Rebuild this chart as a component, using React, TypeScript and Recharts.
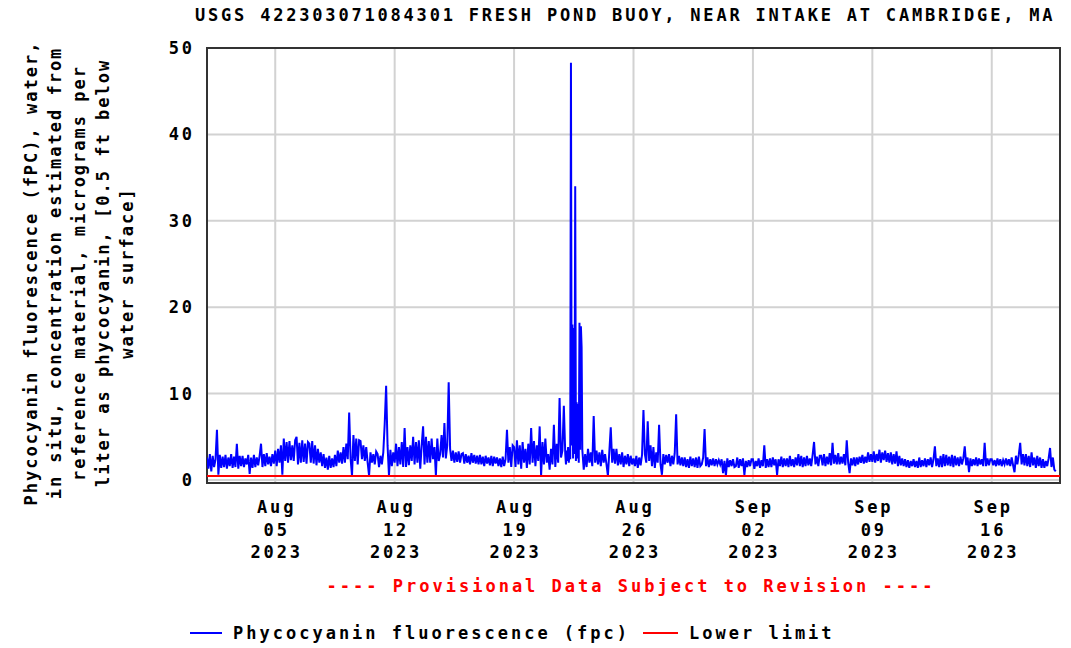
import React from "react";
import {
  LineChart,
  Line,
  XAxis,
  YAxis,
  CartesianGrid,
  ReferenceLine,
  ReferenceArea,
} from "recharts";

// ---- data (phycocyanin, fpc) ----
// 2-hour samples, 12 per day, day 0 = 2023-08-01 00:00
const aug01to07 = [
  2.6, 1.3, 3.0, 1.0, 2.8, 1.5, 2.4, 5.8, 0.6, 2.9, 1.4, 2.7,
  1.5, 2.9, 1.3, 2.6, 1.6, 3.0, 1.4, 2.7, 1.5, 4.2, 1.3, 2.8,
  1.6, 2.8, 1.5, 2.5, 1.8, 2.9, 0.7, 2.6, 1.4, 2.9, 1.5, 2.6,
  1.7, 2.8, 4.2, 1.5, 3.0, 1.6, 3.1, 1.8, 2.7, 1.6, 3.0, 1.9,
  3.4, 1.6, 3.6, 2.0, 4.0, 0.6, 4.8, 2.2, 4.4, 2.0, 4.5, 2.3,
  4.0, 2.2, 4.6, 5.0, 1.8, 4.3, 2.0, 4.6, 2.1, 4.2, 1.9, 4.4,
  4.2, 2.0, 4.5, 1.9, 4.0, 1.7, 3.6, 2.0, 3.2, 1.6, 3.0, 1.4,
];
const aug08to14 = [
  2.6, 1.2, 2.8, 1.4, 2.5, 1.5, 2.9, 1.6, 3.4, 2.0, 3.2, 1.9,
  3.8, 2.0, 4.2, 2.4, 7.8, 2.5, 0.5, 5.2, 2.2, 4.8, 1.8, 4.6,
  4.5, 2.4, 4.0, 2.2, 3.8, 2.0, 0.5, 3.2, 2.0, 3.0, 1.8, 3.3,
  3.0, 1.5, 2.8, 1.8, 3.2, 6.5, 10.9, 4.0, 0.5, 3.5, 1.6, 3.2,
  2.0, 4.2, 1.6, 3.8, 1.8, 4.4, 1.5, 6.0, 1.5, 3.8, 1.7, 4.0,
  2.2, 5.0, 1.8, 4.4, 2.0, 4.6, 1.3, 4.0, 6.2, 1.8, 5.0, 2.0,
  4.5, 2.0, 4.8, 2.4, 3.8, 0.5, 4.8, 2.2, 3.0, 5.2, 2.6, 6.6,
];
const aug15to21 = [
  2.5, 4.0, 11.3, 3.6, 2.2, 3.4, 2.0, 3.2, 2.1, 3.3, 2.0, 3.0,
  3.1, 1.9, 3.0, 2.0, 2.8, 1.8, 3.1, 2.0, 2.9, 1.9, 2.8, 1.8,
  2.9, 1.8, 2.7, 1.6, 2.8, 1.9, 2.6, 1.7, 2.8, 1.6, 2.7, 1.9,
  2.6, 1.6, 2.5, 1.5, 2.7, 1.6, 2.4, 5.8, 2.0, 3.8, 1.5, 4.0,
  3.8, 1.5, 4.6, 1.8, 4.0, 1.3, 4.4, 2.0, 3.6, 1.4, 4.2, 1.8,
  6.0, 2.0, 4.5, 1.6, 4.0, 2.2, 6.2, 0.5, 4.4, 1.8, 4.8, 2.0,
  3.0, 1.2, 3.6, 1.8, 6.4, 1.5, 4.2, 2.0, 9.5, 2.6, 3.4, 8.6,
];
// hourly samples on 2023-08-22 (bloom)
const aug22Hourly = [
  3.0, 1.8, 3.4, 2.2, 3.8, 2.0, 3.5, 2.4, 48.3, 4.0, 18.0, 2.5,
  17.6, 3.0, 34.0, 2.2, 9.0, 2.5, 8.8, 2.0, 18.2, 3.5, 17.8, 15.4,
];
const aug23to29 = [
  3.5, 1.2, 3.0, 1.5, 3.6, 2.0, 3.2, 1.6, 7.4, 2.0, 3.4, 1.8,
  3.2, 1.6, 3.5, 2.0, 3.0, 1.8, 0.5, 3.3, 6.1, 2.0, 3.6, 1.9,
  3.6, 1.7, 3.0, 1.8, 3.2, 1.5, 2.8, 1.8, 3.0, 1.6, 2.8, 1.8,
  2.5, 1.6, 2.8, 1.4, 2.6, 1.7, 2.9, 8.1, 3.0, 2.0, 6.8, 2.2,
  4.0, 1.6, 3.8, 1.4, 3.2, 2.0, 6.4, 1.8, 0.6, 3.0, 1.8, 2.9,
  2.0, 3.0, 1.6, 2.8, 1.8, 3.1, 7.6, 1.8, 2.8, 1.7, 2.6, 1.6,
  2.6, 1.5, 2.4, 1.4, 2.7, 1.6, 2.5, 1.5, 2.6, 1.4, 2.7, 1.6,
];
const aug30toSep05 = [
  1.8, 2.6, 5.9, 1.6, 2.6, 1.5, 2.4, 1.7, 2.5, 1.6, 2.4, 1.8,
  2.3, 1.8, 2.4, 0.8, 2.2, 0.5, 2.5, 1.5, 2.3, 1.6, 2.4, 1.5,
  1.6, 2.6, 1.4, 2.4, 1.6, 2.5, 0.6, 2.2, 1.5, 2.3, 1.6, 2.4,
  2.4, 1.3, 2.2, 1.6, 2.5, 1.4, 2.3, 1.6, 4.0, 1.4, 2.4, 1.5,
  2.5, 1.5, 2.6, 1.7, 2.4, 0.6, 2.4, 1.6, 2.7, 1.5, 2.5, 1.6,
  2.5, 1.5, 2.8, 1.6, 2.4, 1.5, 2.6, 1.7, 3.0, 1.6, 2.8, 1.5,
  2.6, 1.6, 2.8, 1.7, 2.5, 1.6, 2.9, 4.4, 1.8, 2.7, 1.6, 2.8,
];
const sep06to12 = [
  2.8, 1.7, 3.0, 1.6, 2.7, 1.8, 3.1, 1.7, 4.3, 1.9, 2.9, 1.8,
  3.1, 1.8, 2.7, 1.9, 3.0, 1.7, 4.6, 2.0, 0.8, 2.5, 1.7, 2.6,
  1.6, 2.6, 1.8, 2.7, 2.0, 2.9, 1.9, 2.7, 2.0, 3.2, 2.1, 3.0,
  2.1, 3.3, 2.0, 3.0, 2.2, 3.5, 2.0, 3.2, 2.3, 3.4, 2.1, 3.1,
  2.0, 3.2, 1.8, 3.0, 1.9, 3.3, 1.6, 2.8, 1.7, 2.5, 1.6, 2.4,
  1.5, 2.3, 1.4, 2.2, 1.6, 2.4, 1.5, 2.2, 1.4, 2.6, 1.5, 2.3,
  1.6, 2.5, 1.5, 2.4, 1.7, 2.6, 1.5, 2.4, 3.9, 1.6, 2.5, 1.5,
];
const sep13to19 = [
  2.8, 1.5, 3.0, 1.6, 2.9, 1.7, 2.7, 1.6, 2.9, 1.5, 2.8, 1.7,
  2.6, 1.6, 2.7, 1.8, 2.5, 3.9, 1.7, 2.6, 0.9, 2.5, 1.6, 2.4,
  1.7, 2.6, 1.6, 2.5, 1.8, 2.4, 1.6, 4.3, 1.6, 2.5, 1.7, 2.4,
  2.4, 1.7, 2.3, 1.6, 2.5, 1.7, 2.4, 1.6, 2.3, 1.8, 2.5, 1.7,
  2.4, 1.6, 2.6, 1.7, 0.9, 2.8, 1.8, 2.9, 4.3, 1.8, 3.0, 1.7,
  3.0, 1.6, 2.8, 1.5, 3.2, 1.7, 2.6, 1.4, 2.8, 1.6, 2.6, 1.4,
  2.4, 1.4, 2.2, 1.6, 2.5, 3.7, 1.5, 2.6, 1.2, 1.0,
];

const LOWER_LIMIT = 0.45;

// x ticks (days since Aug 01) and their labels
const tickDayValues = [4, 11, 18, 25, 32, 39, 46];
const tickMonths = ["Aug", "Aug", "Aug", "Aug", "Sep", "Sep", "Sep"];
const tickDays = ["05", "12", "19", "26", "02", "09", "16"];
const tickYear = "2023";
const yTicks = [0, 10, 20, 30, 40, 50];

const titleText =
  "USGS 422303071084301 FRESH POND BUOY, NEAR INTAKE AT CAMBRIDGE, MA";
const yLabelLines = [
  "Phycocyanin fluorescence (fPC), water,",
  "in situ, concentration estimated from",
  "reference material, micrograms per",
  "liter as phycocyanin, [0.5 ft below",
  "water surface]",
];
const provisionalText = "---- Provisional Data Subject to Revision ----";
const seriesName = "Phycocyanin fluorescence (fpc)";
const lowerName = "Lower limit";

const segments = [
  { startDay: 0, perDay: 12, values: aug01to07 },
  { startDay: 7, perDay: 12, values: aug08to14 },
  { startDay: 14, perDay: 12, values: aug15to21 },
  { startDay: 21, perDay: 24, values: aug22Hourly },
  { startDay: 22, perDay: 12, values: aug23to29 },
  { startDay: 29, perDay: 12, values: aug30toSep05 },
  { startDay: 36, perDay: 12, values: sep06to12 },
  { startDay: 43, perDay: 12, values: sep13to19 },
];

const data = segments.flatMap((s) =>
  s.values.map((v, i) => ({ t: s.startDay + i / s.perDay, v }))
);

const FONT = '"DejaVu Sans Mono", "Liberation Mono", monospace';
const LS = 2.8;
const textStyle: React.CSSProperties = {
  fontFamily: FONT,
  fontWeight: 700,
  fontSize: 17,
  letterSpacing: LS,
};

const XTick = (props: any) => {
  const { x, y, payload } = props;
  const i = tickDayValues.indexOf(payload.value);
  if (i < 0) return null;
  const cx = x + LS / 2;
  return (
    <text x={cx} y={y} textAnchor="middle" fill="#000" style={textStyle}>
      <tspan x={cx} dy={30}>{tickMonths[i]}</tspan>
      <tspan x={cx} dy={22.5}>{tickDays[i]}</tspan>
      <tspan x={cx} dy={22.5}>{tickYear}</tspan>
    </text>
  );
};

const YTick = (props: any) => {
  const { x, y, payload } = props;
  return (
    <text x={x + LS} y={y} dy={6} textAnchor="end" fill="#000" style={textStyle}>
      {payload.value}
    </text>
  );
};

export default function App() {
  return (
    <div
      style={{
        position: "absolute",
        left: 0,
        top: 0,
        width: 1071,
        height: 648,
        background: "#fff",
      }}
    >
      <LineChart
        width={1071}
        height={648}
        data={data}
        margin={{ top: 48, right: 11, bottom: 65, left: 147 }}
      >
        <CartesianGrid stroke="#d2d2d2" strokeWidth={2} />
        <XAxis
          dataKey="t"
          type="number"
          domain={[0, 50]}
          ticks={tickDayValues}
          tick={<XTick />}
          tickSize={0}
          tickMargin={0}
          height={100}
          axisLine={false}
          tickLine={false}
          interval={0}
          allowDataOverflow
        />
        <YAxis
          type="number"
          domain={[-0.35, 50]}
          ticks={yTicks}
          tick={<YTick />}
          tickSize={0}
          tickMargin={15}
          width={60}
          axisLine={false}
          tickLine={false}
          interval={0}
          allowDataOverflow
        />
        <Line
          dataKey="v"
          type="linear"
          stroke="#0000ff"
          strokeWidth={2}
          strokeLinejoin="miter"
          dot={false}
          isAnimationActive={false}
        />
        <ReferenceLine y={LOWER_LIMIT} stroke="#ff0000" strokeWidth={2} />
        <ReferenceArea
          x1={0}
          x2={50}
          y1={-0.35}
          y2={50}
          fill="none"
          fillOpacity={0}
          stroke="#333333"
          strokeWidth={2}
        />
      </LineChart>
      <svg
        width={1071}
        height={648}
        style={{ position: "absolute", left: 0, top: 0, pointerEvents: "none" }}
      >
        <text x={195} y={21} fill="#000" style={textStyle}>
          {titleText}
        </text>
        {yLabelLines.map((line, i) => (
          <text
            key={i}
            transform={`translate(${37 + i * 24}, 273) rotate(-90)`}
            textAnchor="middle"
            fill="#000"
            style={{ ...textStyle, letterSpacing: 2.0 }}
          >
            {line}
          </text>
        ))}
        <text
          x={631}
          y={592}
          textAnchor="middle"
          fill="#ff0000"
          style={{ ...textStyle, letterSpacing: 3.0 }}
        >
          {provisionalText}
        </text>
        <line x1={190} x2={222} y1={633} y2={633} stroke="#0000ff" strokeWidth={2} />
        <text x={233} y={639} fill="#000" style={{ ...textStyle, letterSpacing: 3.0 }}>
          {seriesName}
        </text>
        <line x1={643} x2={678} y1={633} y2={633} stroke="#ff0000" strokeWidth={2} />
        <text x={689} y={639} fill="#000" style={{ ...textStyle, letterSpacing: 3.0 }}>
          {lowerName}
        </text>
      </svg>
    </div>
  );
}
